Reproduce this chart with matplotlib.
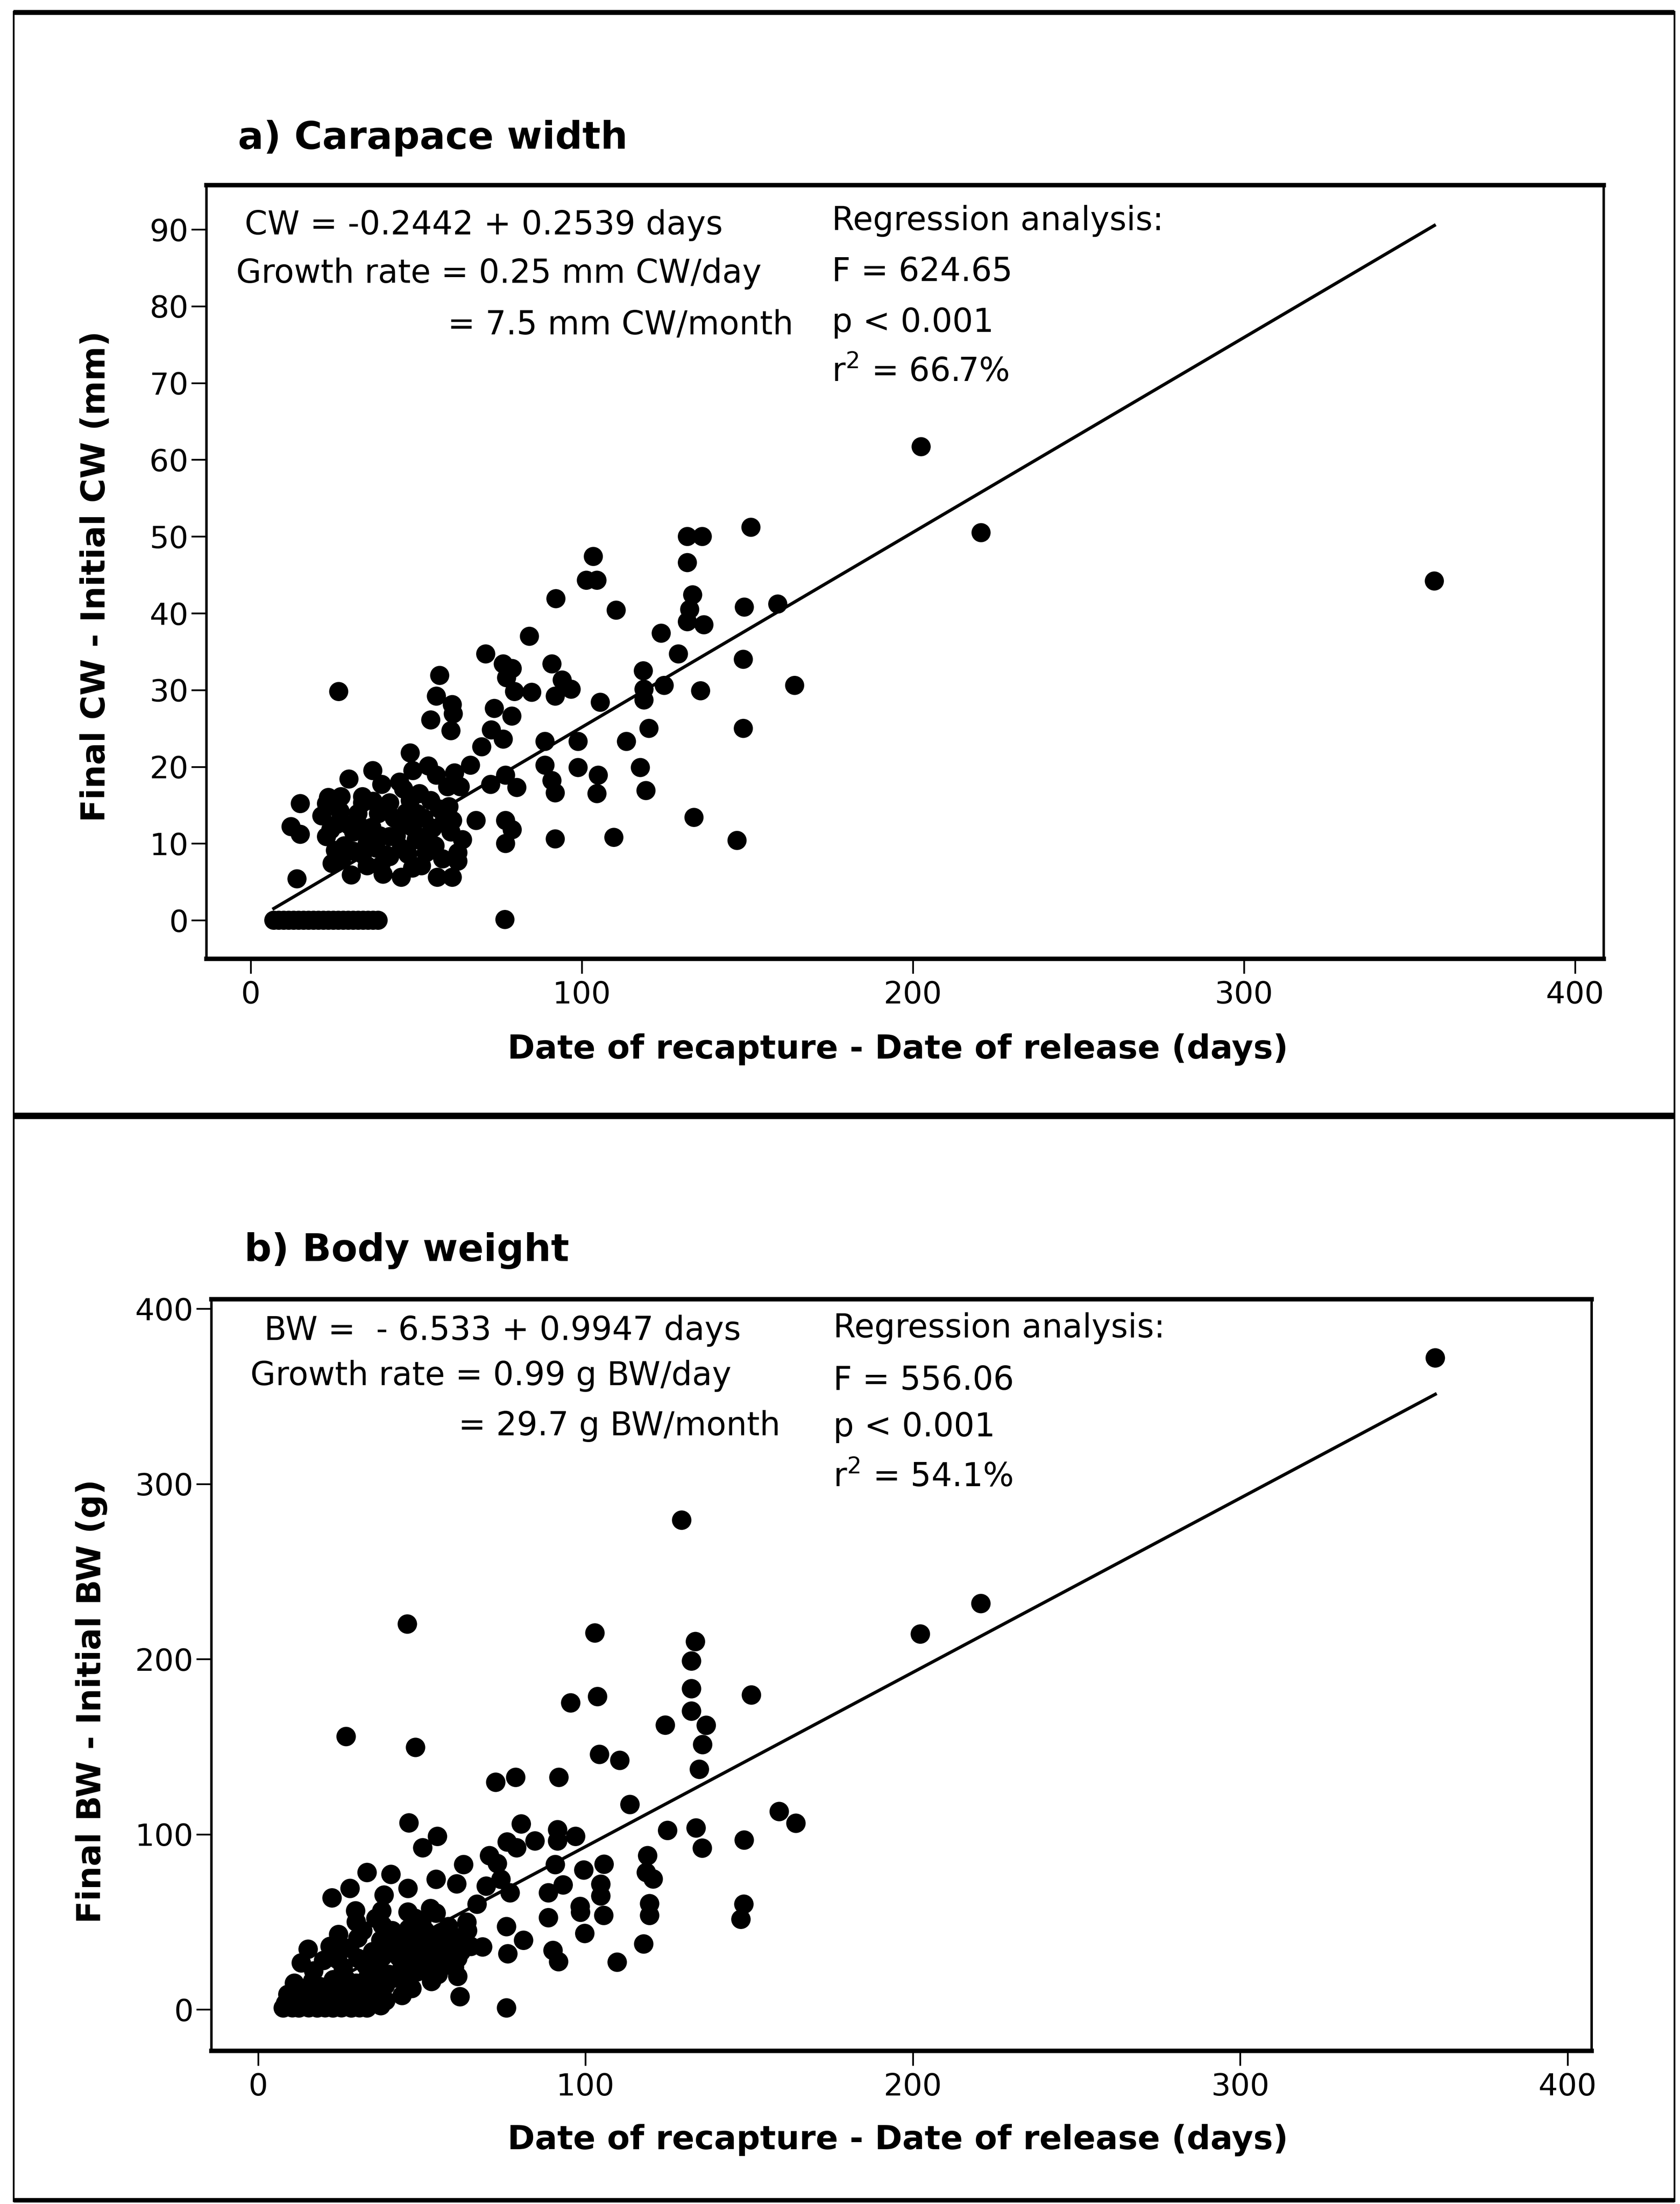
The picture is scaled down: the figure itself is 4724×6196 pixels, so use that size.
import numpy as np
import matplotlib
matplotlib.use('Agg')
import matplotlib.pyplot as plt
from matplotlib.lines import Line2D

plt.rcParams['font.family'] = ['DejaVu Sans']
plt.rcParams['mathtext.fontset'] = 'dejavusans'

# ---------------- data ----------------
# a) carapace width increment vs days at liberty
cw_days = [
    7, 8.5, 10, 11.5, 13, 14.5, 16, 17.5, 19, 20.5, 22, 23.5, 25, 26.5, 28, 29.5,
    31, 32.5, 34, 35.5, 37, 38.5, 76.8,
    202.5, 220.6, 357.5, 151.1, 159.2, 164.3, 149.1, 148.8, 148.8, 146.9,
    131.9, 136.4, 131.9, 133.5, 132.6, 131.9, 136.9, 135.9, 133.9, 129.2, 124.0,
    124.9, 118.6, 118.8, 118.8, 120.3, 117.7, 119.4, 113.5, 109.7, 110.4, 105.6,
    105.0, 104.6, 103.5, 101.4, 104.6,
    92.2, 84.2, 71.0, 76.3, 79.0, 77.3, 79.7, 84.9, 91.0, 94.1, 96.8, 92.0, 57.1,
    56.1, 60.9, 61.2, 54.4, 60.5, 73.6, 78.9, 72.7, 76.3, 69.8, 88.9, 98.9, 88.9,
    98.9, 91.0, 92.0, 77.0, 79.0, 77.0, 68.1, 92.0, 77.0, 80.4, 72.5, 66.4, 61.6,
    48.2, 53.7, 56.1, 36.9, 39.6, 29.7, 46.2, 15.0, 22.9, 27.3, 33.8, 12.2, 15.0,
    14.0, 26.6,
    24.2, 25.6, 24.6, 30.4, 35.2, 32.4, 31.1, 36.6, 40.7, 43.4, 48.2, 50.3, 53.0,
    53.0, 48.9, 42.0, 37.9, 45.5, 45.5, 48.9, 56.4, 60.9, 60.5, 62.6, 62.6, 59.9,
    58.5, 54.4, 59.5, 63.3, 28.3, 29.7, 33.8, 22.9, 27.0, 35.2, 42.0, 39.3, 55.7,
    52.3, 47.5, 21.5, 38.6, 42.0, 33.8, 51.6, 46.2,
    23.5, 26.0, 27.5, 31.0, 34.0, 37.0, 39.0, 41.0, 44.0, 47.0, 50.0, 51.0, 55.0,
    57.0, 58.0, 61.0, 64.0, 45.0, 49.0, 40.0,
]
cw_gain = [
    0, 0, 0, 0, 0, 0, 0, 0, 0, 0, 0, 0, 0, 0, 0, 0,
    0, 0, 0, 0, 0, 0, 0.1,
    61.7, 50.5, 44.2, 51.2, 41.2, 30.6, 40.8, 34.0, 25.0, 10.4,
    50.0, 50.0, 46.6, 42.4, 40.5, 38.9, 38.5, 29.9, 13.4, 34.7, 37.4,
    30.6, 32.5, 30.1, 28.7, 25.0, 19.9, 16.9, 23.3, 10.8, 40.4, 28.4,
    18.9, 16.5, 47.4, 44.3, 44.3,
    41.9, 37.0, 34.7, 33.4, 32.8, 31.6, 29.8, 29.7, 33.4, 31.3, 30.1, 29.2, 31.9,
    29.2, 28.1, 26.9, 26.1, 24.7, 27.6, 26.6, 24.8, 23.6, 22.6, 23.3, 23.3, 20.2,
    19.9, 18.2, 16.6, 13.0, 11.8, 10.0, 13.0, 10.6, 18.9, 17.3, 17.7, 20.2, 19.2,
    21.8, 20.1, 18.9, 19.5, 17.7, 18.4, 17.1, 15.2, 15.2, 16.1, 16.1, 12.2, 11.2,
    5.4, 29.8,
    11.8, 9.1, 7.4, 5.9, 7.1, 13.9, 11.5, 12.1, 14.5, 13.3, 15.6, 13.9, 10.9,
    8.8, 12.1, 10.9, 9.4, 9.4, 5.6, 6.8, 5.6, 5.6, 11.5, 8.8, 7.7, 14.8,
    13.0, 15.6, 17.4, 17.4, 9.7, 12.4, 15.3, 10.9, 14.2, 10.0, 8.3, 7.1, 9.7,
    13.3, 8.6, 13.6, 13.9, 15.3, 8.6, 7.1, 12.7,
    16.0, 12.5, 8.0, 9.0, 12.0, 15.5, 11.0, 8.5, 11.0, 14.0, 10.5, 16.5, 12.0,
    14.5, 8.0, 13.0, 10.5, 18.0, 19.5, 6.0,
]

# b) body weight increment vs days at liberty
bw_days = [
    359.6, 220.8, 202.3, 129.4, 102.9, 45.6, 133.6, 132.4, 132.4, 132.4, 136.9,
    135.8, 134.8, 124.4, 150.7, 103.7, 95.5, 104.3, 110.5, 113.6, 125.1, 133.8,
    135.7, 148.5, 159.2, 164.3, 99.5, 105.7, 104.7, 104.7, 105.6, 119.0, 118.6,
    120.7, 119.6, 119.6, 117.8, 109.7, 148.4, 147.5, 98.5,
    26.9, 48.1, 72.6, 78.7, 91.9, 46.1, 54.8, 50.3, 80.4, 91.5, 91.5, 97.0, 76.1,
    84.6, 79.0, 70.7, 73.1, 62.8, 90.8, 33.3, 40.6, 93.2, 88.7, 45.8, 54.4, 60.7,
    69.7, 74.2, 77.0, 66.9, 28.1, 22.6, 29.8, 38.5, 37.8, 45.8, 98.4, 88.7, 99.8,
    75.9, 81.1, 68.6, 76.3, 90.1, 91.8, 75.9, 61.7, 61.0, 45.1, 48.6, 58.2, 63.8,
    54.4, 51.3, 59.6, 61.0, 15.3, 13.2, 24.6, 24.3, 30.5, 37.5, 45.8, 30.5, 36.1,
    41.6, 49.2, 54.1, 33.3, 38.9, 26.4, 11.1, 16.7, 7.7, 12.5, 18.1, 22.9, 28.5,
    33.3, 37.5, 9.1, 14.6, 20.8, 25.0, 30.5, 36.1, 8.4, 51.3, 52.7,
    10.5, 15.5, 20.5, 25.5, 31.0, 11.0, 17.0, 24.0, 29.0, 34.0, 13.0, 19.0, 23.0,
    28.0, 32.0, 40.0, 44.0, 48.0, 52.0, 56.0, 58.0, 42.0, 35.0, 28.0, 32.0, 38.0,
    46.0, 50.0, 56.0, 63.0, 65.0, 60.0, 53.0, 47.0, 44.0, 22.0, 26.0, 34.0,
    9.0, 12.0, 14.0, 16.0, 18.0, 20.0, 22.0, 24.0, 26.0, 27.0, 30.0, 32.0, 33.0,
    35.0, 36.0, 38.0, 39.0, 40.0, 42.0, 43.0, 45.0, 47.0, 49.0, 51.0, 53.0, 55.0,
    57.0, 59.0, 62.0, 64.0, 55.0, 48.0, 41.0, 36.0, 30.0, 25.0, 20.0, 17.0,
]
bw_gain = [
    371.9, 231.7, 214.3, 279.3, 214.9, 220.0, 210.0, 198.9, 183.1, 170.3, 162.2,
    151.2, 137.1, 162.3, 179.5, 178.6, 175.0, 145.6, 142.2, 117.0, 102.2, 103.6,
    92.1, 96.7, 113.0, 106.3, 79.6, 82.9, 71.5, 64.8, 53.7, 87.8, 78.2,
    74.5, 60.4, 53.7, 37.4, 27.0, 60.1, 51.5, 55.5,
    155.8, 149.6, 129.7, 132.5, 132.5, 106.5, 98.8, 92.3, 105.9, 102.6, 96.2, 98.8, 95.6,
    96.2, 92.3, 87.8, 83.3, 82.7, 82.7, 78.2, 77.1, 71.1, 66.6, 69.1, 74.3, 71.7,
    70.4, 74.3, 66.6, 60.1, 69.1, 63.7, 56.3, 65.3, 56.3, 55.6, 58.8, 52.4, 43.4,
    47.3, 39.5, 35.7, 31.8, 33.7, 27.3, 0.9, 7.3, 18.9, 15.0, 21.5, 47.3, 49.8,
    55.0, 39.5, 35.7, 29.2, 34.4, 26.6, 42.8, 28.6, 40.8, 39.5, 42.1, 29.2, 26.6,
    33.1, 33.1, 42.1, 17.6, 13.8, 13.8, 15.0, 16.3, 0.9, 0.9, 0.9, 0.9, 0.9,
    0.9, 2.2, 8.6, 6.0, 8.6, 13.8, 7.3, 9.9, 3.5, 22.8, 57.6,
    1.0, 1.0, 1.0, 1.0, 1.0, 4.0, 3.0, 4.0, 5.0, 4.0, 12.0, 13.0, 17.0,
    10.0, 12.0, 20.0, 24.0, 28.0, 30.0, 26.0, 32.0, 36.0, 33.0, 35.0, 45.0, 48.0,
    46.0, 50.0, 44.0, 40.0, 36.0, 24.0, 16.0, 12.0, 8.0, 36.0, 24.0, 22.0,
    2.0, 5.0, 9.0, 2.0, 6.0, 12.0, 3.0, 9.0, 6.0, 17.0, 15.0, 7.0, 25.0,
    18.0, 14.0, 30.0, 5.0, 40.0, 18.0, 30.0, 34.0, 40.0, 25.0, 45.0, 35.0, 38.0,
    30.0, 42.0, 33.0, 45.0, 20.0, 52.0, 45.0, 52.0, 50.0, 35.0, 28.0, 22.0,
]

cw_intercept, cw_slope = -0.2442, 0.2539
bw_intercept, bw_slope = -6.533, 0.9947

x_ticks = [0, 100, 200, 300, 400]
cw_yticks = [0, 10, 20, 30, 40, 50, 60, 70, 80, 90]
bw_yticks = [0, 100, 200, 300, 400]

# ---------------- layout helpers ----------------
W, H = 4724, 6196
DPI = 100


def fx(x):
    return x / W


def fy(y):
    return 1 - y / H


fig = plt.figure(figsize=(W / DPI, H / DPI), dpi=DPI)
fig.patch.set_facecolor('white')

ANN = 66
TICK = 62
LAB = 67
TTL = 77


def style_axes(ax):
    for s in ['top', 'bottom']:
        ax.spines[s].set_linewidth(9)
    for s in ['left', 'right']:
        ax.spines[s].set_linewidth(5)
    ax.tick_params(direction='out', length=30, width=3.5, labelsize=TICK,
                   top=False, right=False)
    ax.tick_params(axis='x', pad=14)
    ax.tick_params(axis='y', pad=6)


# ---- panel a ----
ax1 = fig.add_axes([fx(580), fy(2695), (4509 - 580) / W, (2695 - 520) / H])
ax1.scatter(cw_days, cw_gain, s=1500, c='black', edgecolors='none', zorder=3)
xl = np.array([min(cw_days), max(cw_days)])
ax1.plot(xl, cw_intercept + cw_slope * xl, color='black', lw=6.5, zorder=2)
ax1.set_xlim(-13.4, 408.6)
ax1.set_ylim(-5.0, 95.8)
ax1.set_xticks(x_ticks)
ax1.set_yticks(cw_yticks)
style_axes(ax1)

# ---- panel b ----
ax2 = fig.add_axes([fx(594), fy(5765), (4475 - 594) / W, (5765 - 3652) / H])
ax2.scatter(bw_days, bw_gain, s=1550, c='black', edgecolors='none', zorder=3)
xl2 = np.array([min(bw_days), max(bw_days)])
ax2.plot(xl2, bw_intercept + bw_slope * xl2, color='black', lw=6.5, zorder=2)
ax2.set_xlim(-14.3, 407.3)
ax2.set_ylim(-23.5, 405.5)
ax2.set_xticks(x_ticks)
ax2.set_yticks(bw_yticks)
style_axes(ax2)

# ---- texts panel a ----
fig.text(fx(669), fy(418), 'a) Carapace width', fontsize=TTL, fontweight='bold', va='baseline', ha='left')
fig.text(fx(688), fy(659), 'CW = -0.2442 + 0.2539 days', fontsize=ANN, va='baseline', ha='left')
fig.text(fx(664), fy(795), 'Growth rate = 0.25 mm CW/day', fontsize=ANN, va='baseline', ha='left')
fig.text(fx(1259), fy(940), '= 7.5 mm CW/month', fontsize=ANN, va='baseline', ha='left')
fig.text(fx(2339), fy(647), 'Regression analysis:', fontsize=ANN, va='baseline', ha='left')
fig.text(fx(2339), fy(790), 'F = 624.65', fontsize=ANN, va='baseline', ha='left')
fig.text(fx(2339), fy(933), 'p < 0.001', fontsize=ANN, va='baseline', ha='left')
fig.text(fx(2339), fy(1071), 'r$^2$ = 66.7%', fontsize=ANN, va='baseline', ha='left')
fig.text(fx(2525), fy(2976), 'Date of recapture - Date of release (days)', fontsize=LAB,
         fontweight='bold', va='baseline', ha='center')
fig.text(fx(269), fy(1621), 'Final CW - Initial CW (mm)', fontsize=LAB, fontweight='bold',
         rotation=90, va='center', ha='center')

# ---- texts panel b ----
fig.text(fx(687), fy(3545), 'b) Body weight', fontsize=TTL, fontweight='bold', va='baseline', ha='left')
fig.text(fx(743), fy(3767), 'BW =  - 6.533 + 0.9947 days', fontsize=ANN, va='baseline', ha='left')
fig.text(fx(704), fy(3894), 'Growth rate = 0.99 g BW/day', fontsize=ANN, va='baseline', ha='left')
fig.text(fx(1289), fy(4035), '= 29.7 g BW/month', fontsize=ANN, va='baseline', ha='left')
fig.text(fx(2343), fy(3760), 'Regression analysis:', fontsize=ANN, va='baseline', ha='left')
fig.text(fx(2343), fy(3907), 'F = 556.06', fontsize=ANN, va='baseline', ha='left')
fig.text(fx(2343), fy(4038), 'p < 0.001', fontsize=ANN, va='baseline', ha='left')
fig.text(fx(2343), fy(4178), 'r$^2$ = 54.1%', fontsize=ANN, va='baseline', ha='left')
fig.text(fx(2525), fy(6042), 'Date of recapture - Date of release (days)', fontsize=LAB,
         fontweight='bold', va='baseline', ha='center')
fig.text(fx(257), fy(4783), 'Final BW - Initial BW (g)', fontsize=LAB, fontweight='bold',
         rotation=90, va='center', ha='center')

# ---- outer frames ----
def fline(x0, y0, x1, y1, lw):
    fig.add_artist(Line2D([fx(x0), fx(x1)], [fy(y0), fy(y1)], transform=fig.transFigure,
                          color='black', lw=lw, solid_capstyle='butt'))


fline(38, 35, 4708, 35, 10)
fline(38, 3137, 4708, 3137, 13)
fline(38, 6185, 4708, 6185, 9)
fline(38, 30, 38, 6190, 3.5)
fline(4708, 30, 4708, 6190, 3.5)

fig.savefig('out.png', dpi=DPI, facecolor='white')
